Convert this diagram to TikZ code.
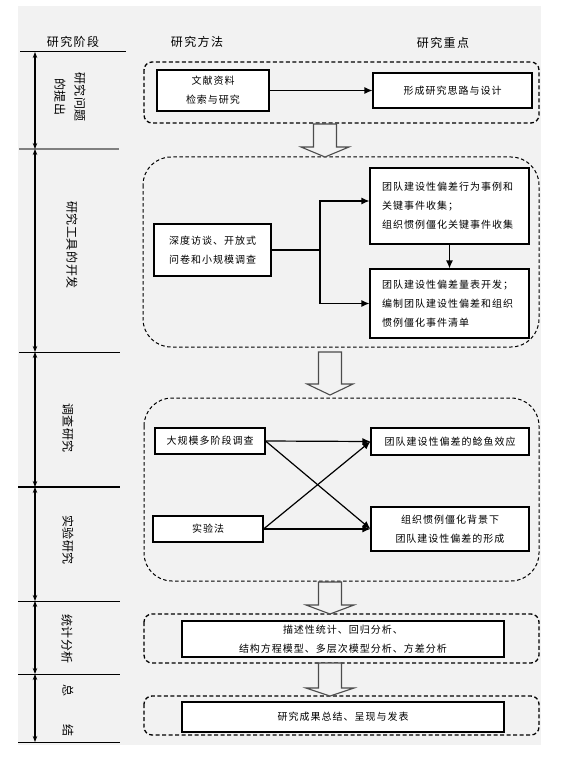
\documentclass[tikz,border=0pt]{standalone}
\usepackage{fontspec}
\setmainfont{Noto Sans CJK SC}
\newfontfamily\cjkbody[LetterSpace=10]{Noto Sans CJK SC}
\newfontfamily\cjkhead[LetterSpace=12]{Noto Sans CJK SC}
\newfontfamily\cjkstage[LetterSpace=5]{Noto Sans CJK SC}
\usetikzlibrary{arrows.meta}
\definecolor{bgc}{HTML}{F2F2F2}
\begin{document}
\begin{tikzpicture}[x=1pt,y=-1pt,
  box/.style={draw=black,fill=white,line width=1.1pt,inner sep=0pt,align=center,
    font=\cjkbody\fontsize{10}{19}\selectfont},
  lbox/.style={box,align=left,text width=135pt,inner xsep=12pt},
  dboxa/.style={draw=black,dash pattern=on 4pt off 2.5pt,line width=1.3pt,rounded corners=8pt},
  dboxb/.style={draw=black,dash pattern=on 3.5pt off 2.5pt,line width=1pt,rounded corners=28pt},
  barrow/.style={draw=black!70,line width=1.1pt,fill=bgc},
  conn/.style={line width=1.2pt,-{Latex[length=8pt,width=7pt]}},
  sarr/.style={line width=1.1pt,{Stealth[length=6pt,width=4.5pt]}-{Stealth[length=6pt,width=4.5pt]}},
  sepline/.style={line width=1pt},
  hdr/.style={font=\cjkhead\fontsize{12}{14}\selectfont,inner sep=0pt},
  stage/.style={rotate=-90,align=center,inner sep=0pt,font=\cjkstage\fontsize{12}{20}\selectfont}
]
\useasboundingbox (0,0) rectangle (570,762);
\fill[bgc] (18,6) rectangle (541,745);

% headers
\node[hdr] (h1) at (73,42) {研究阶段};
\node[hdr] (h2) at (197,42) {研究方法};
\node[hdr] (h3) at (443,43) {研究重点};

% stage separators and arrows
\draw[sepline] (20,52) -- (126,52);
\draw[sepline,draw=black!50,line width=1.2pt] (19,149) -- (119,149);
\draw[sepline] (19,352) -- (120,352);
\draw[sepline,line width=2.5pt] (18,487) -- (120,487);
\draw[sepline] (18,601) -- (120,601);
\draw[sepline] (18,674) -- (120,674);
\draw[sepline] (18,742) -- (120,742);
\coordinate (s0) at (35,52);
\coordinate (s1) at (35,149);
\coordinate (s2) at (35,352);
\coordinate (s3) at (35,487);
\coordinate (s4) at (35,601);
\coordinate (s5) at (35,674);
\coordinate (s6) at (35,742);
\draw[sarr] (s0) -- (s1);
\draw[sarr] (s1) -- (s2);
\draw[sarr] (s2) -- (s3);
\draw[sarr] (s3) -- (s4);
\draw[sarr] (s4) -- (s5);
\draw[sarr] (s5) -- (s6);

% stage labels
\node[stage] (st1) at (70,97) {研究问题\\的提出};
\node[stage] (st2) at (72,245) {研究工具的开发};
\node[stage] (st3) at (68,428) {调查研究};
\node[stage] (st4) at (68,540) {实验研究};
\node[stage] (st5) at (67,639) {统计分析};
\node[stage] (st6) at (68,710) {总\hspace{28pt}结};

% dashed containers
\draw[dboxa] (144,62) rectangle (539,123);
\draw[dboxb] (143,157) rectangle (539,347);
\draw[dboxb] (144,398) rectangle (539,581);
\draw[dboxa] (144,614) rectangle (539,663);
\draw[dboxa] (144,696) rectangle (539,735);

% block arrows
\draw[barrow] (313.5,124) -- (313.5,147) -- (301,147) -- (325,157) -- (349,147) -- (336.5,147) -- (336.5,124) -- cycle;
\draw[barrow] (318.5,352) -- (318.5,384) -- (307,384) -- (330,395) -- (353,384) -- (341.5,384) -- (341.5,352) -- cycle;
\draw[barrow] (318.5,582) -- (318.5,605) -- (306,605) -- (330,614) -- (354,605) -- (341.5,605) -- (341.5,582) -- cycle;
\draw[barrow] (318.5,663) -- (318.5,688) -- (306,688) -- (330,696) -- (354,688) -- (341.5,688) -- (341.5,663) -- cycle;

% stage 1
\node[box,minimum width=112pt,minimum height=41pt] (b1) at (213,90.5) {文献资料\\检索与研究};
\node[box,minimum width=159pt,minimum height=35pt] (b2) at (452.5,90.5) {形成研究思路与设计};
\draw[conn] (b1.east) -- (b2.west);

% stage 2
\node[box,minimum width=117pt,minimum height=52pt] (b3) at (212.5,250) {深度访谈、开放式\\问卷和小规模调查};
\node[lbox,minimum height=76pt] (b4) at (449.5,206) {团队建设性偏差行为事例和\\关键事件收集；\\组织惯例僵化关键事件收集};
\node[lbox,minimum height=69pt] (b5) at (449.5,303.5) {团队建设性偏差量表开发；\\编制团队建设性偏差和组织\\惯例僵化事件清单};
\coordinate (j) at (320,250);
\draw[line width=1.2pt] (b3.east) -- (j);
\draw[conn] (j) |- ([yshift=5pt]b4.west);
\draw[conn] (j) |- (b5.west);
\draw[conn] (b4.south) -- (b5.north);

% stage 3
\node[box,minimum width=110pt,minimum height=26pt] (b6) at (210,441) {大规模多阶段调查};
\node[box,minimum width=110pt,minimum height=26pt] (b7) at (208,529) {实验法};
\node[box,minimum width=158pt,minimum height=27pt] (b8) at (450,441.5) {团队建设性偏差的鲶鱼效应};
\node[box,minimum width=158pt,minimum height=44pt] (b9) at (450,529) {组织惯例僵化背景下\\团队建设性偏差的形成};
\draw[conn] (b6.east) -- (b8.west);
\draw[conn] (b6.east) -- (b9.west);
\draw[conn] (b7.east) -- (b9.west);
\draw[conn] (b7.east) -- (b8.west);

% stage 4/5
\node[box,minimum width=322pt,minimum height=36pt] (b10) at (343,639) {描述性统计、回归分析、\\结构方程模型、多层次模型分析、方差分析};
\node[box,minimum width=322pt,minimum height=30pt] (b11) at (343,717) {研究成果总结、呈现与发表};
\end{tikzpicture}
\end{document}
